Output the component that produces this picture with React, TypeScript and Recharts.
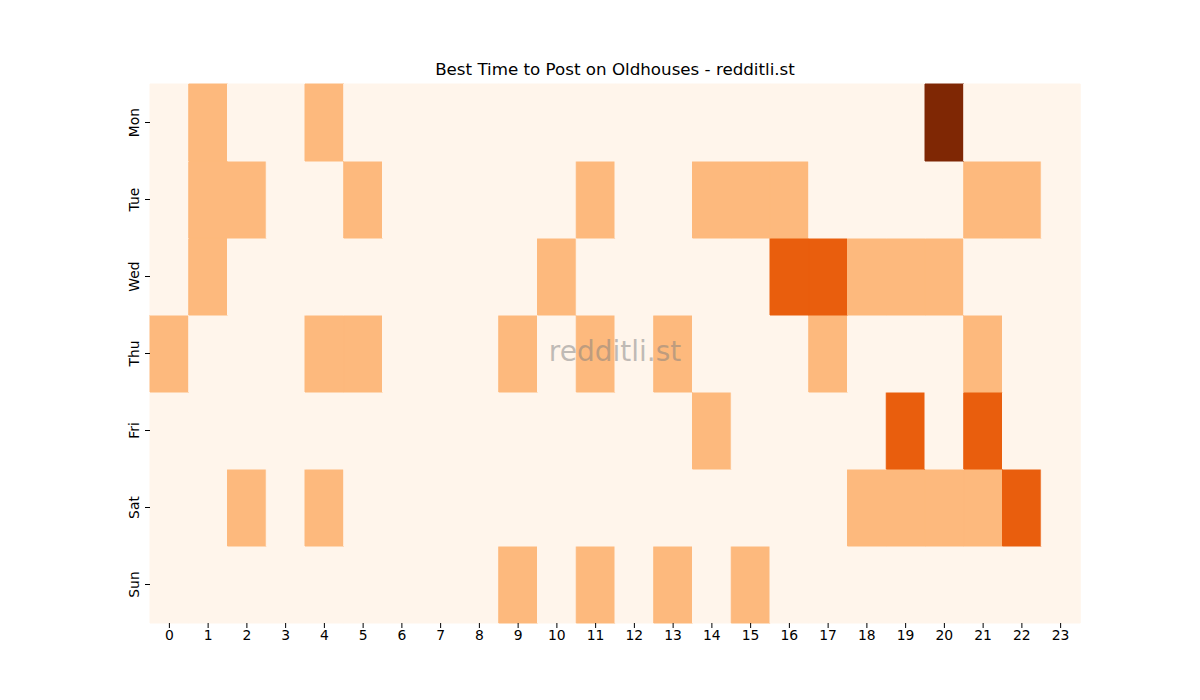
import React from "react";
import { BarChart, Bar, Cell, XAxis, YAxis } from "recharts";

// hours of the day on the x axis
const hours = Array.from({ length: 24 }, (_, i) => String(i));

// rows top to bottom
const days = ["Mon", "Tue", "Wed", "Thu", "Fri", "Sat", "Sun"];

// activity level per hour (0 = none, 3 = best)
const mon = [0, 1, 0, 0, 1, 0, 0, 0, 0, 0, 0, 0, 0, 0, 0, 0, 0, 0, 0, 0, 3, 0, 0, 0];
const tue = [0, 1, 1, 0, 0, 1, 0, 0, 0, 0, 0, 1, 0, 0, 1, 1, 1, 0, 0, 0, 0, 1, 1, 0];
const wed = [0, 1, 0, 0, 0, 0, 0, 0, 0, 0, 1, 0, 0, 0, 0, 0, 2, 2, 1, 1, 1, 0, 0, 0];
const thu = [1, 0, 0, 0, 1, 1, 0, 0, 0, 1, 0, 1, 0, 1, 0, 0, 0, 1, 0, 0, 0, 1, 0, 0];
const fri = [0, 0, 0, 0, 0, 0, 0, 0, 0, 0, 0, 0, 0, 0, 1, 0, 0, 0, 0, 2, 0, 2, 0, 0];
const sat = [0, 0, 1, 0, 1, 0, 0, 0, 0, 0, 0, 0, 0, 0, 0, 0, 0, 0, 1, 1, 1, 1, 2, 0];
const sun = [0, 0, 0, 0, 0, 0, 0, 0, 0, 1, 0, 1, 0, 1, 0, 1, 0, 0, 0, 0, 0, 0, 0, 0];

const levels: Record<string, number[]> = { Mon: mon, Tue: tue, Wed: wed, Thu: thu, Fri: fri, Sat: sat, Sun: sun };

// Oranges colormap steps
const palette = ["#fff5eb", "#fdb97d", "#e95e0d", "#7f2704"];

// each cell is one unit of a stacked column
const data = hours.map((h) => {
  const row: Record<string, string | number> = { hour: h };
  days.forEach((d) => (row[d] = 1));
  return row;
});

// stacking goes bottom up, so Sun first
const stackOrder = [...days].reverse();
const yTicks = stackOrder.map((_, i) => i + 0.5);

const font = "'DejaVu Sans', sans-serif";

const DayTick = (props: any) => {
  const { x, y, payload } = props;
  const label = stackOrder[Math.floor(payload.value)];
  return (
    <text
      x={x}
      y={y}
      transform={`rotate(-90, ${x}, ${y})`}
      textAnchor="middle"
      dy={-4}
      fontSize={13.9}
      fontFamily={font}
      fill="#000"
    >
      {label}
    </text>
  );
};

const App = () => (
  <div style={{ position: "absolute", left: 0, top: 0, width: 1200, height: 700, background: "#fff" }}>
    <div
      style={{
        position: "absolute",
        left: 150,
        top: 59,
        width: 930,
        textAlign: "center",
        fontFamily: font,
        fontSize: 16.7,
        lineHeight: "20px",
        color: "#000",
      }}
    >
      Best Time to Post on Oldhouses - redditli.st
    </div>
    <BarChart
      width={1200}
      height={700}
      data={data}
      margin={{ top: 84, right: 120, bottom: 47, left: 110 }}
      barCategoryGap={0}
      barGap={0}
    >
      <XAxis
        dataKey="hour"
        interval={0}
        axisLine={false}
        tickSize={5}
        tickLine={{ stroke: "#000" }}
        tick={{ fontSize: 13.9, fontFamily: font, fill: "#000" }}
        height={30}
      />
      <YAxis
        type="number"
        domain={[0, 7]}
        ticks={yTicks}
        width={40}
        axisLine={false}
        tickSize={5}
        tickLine={{ stroke: "#000" }}
        tick={<DayTick />}
      />
      {stackOrder.map((d) => (
        <Bar key={d} dataKey={d} stackId="a" isAnimationActive={false}>
          {levels[d].map((v, i) => (
            <Cell key={i} fill={palette[v]} stroke={palette[v]} strokeWidth={1} />
          ))}
        </Bar>
      ))}
    </BarChart>
    <div
      style={{
        position: "absolute",
        left: 150,
        top: 334,
        width: 930,
        textAlign: "center",
        fontFamily: font,
        fontSize: 28,
        lineHeight: "36px",
        color: "rgba(128,128,128,0.5)",
        pointerEvents: "none",
      }}
    >
      redditli.st
    </div>
  </div>
);

export default App;
